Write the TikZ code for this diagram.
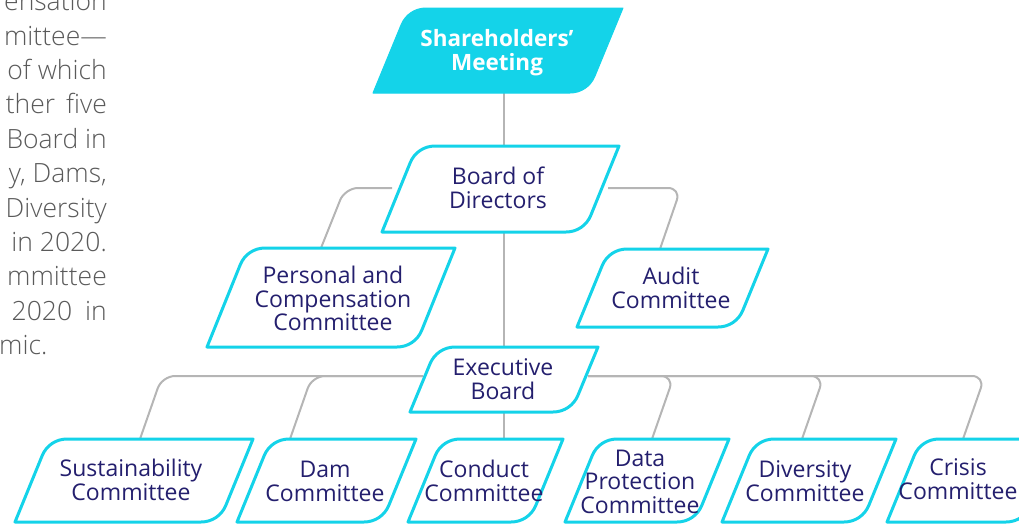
\documentclass[tikz,border=0pt]{standalone}
\usepackage{fontspec}
\setmainfont{Open Sans}
\IfFontExistsTF{Open Sans Light}{\newfontfamily\paralight{Open Sans Light}}{\newfontfamily\paralight{Open Sans}}
\IfFontExistsTF{Open Sans SemiBold}{\newfontfamily\headsemi{Open Sans SemiBold}}{\newcommand\headsemi{\bfseries}}
\usetikzlibrary{calc}
\definecolor{orgcyan}{HTML}{14D3E9}
\definecolor{orgnavy}{HTML}{241F6E}
\definecolor{orgline}{HTML}{B5B5B5}
\definecolor{paragray}{HTML}{5A5A5A}
% distance from a corner at which its rounding begins, and the pull of its control points
\newcommand\pgcorner{18pt}
\newcommand\pgctrl{7pt}
% slanted box with rounded top-left and bottom-right corners:
% name, top-left x, top-right x, top y, bottom y, slant, style
\newcommand\drawpgram[7]{%
  \coordinate (#1-tl) at (#2,#4);
  \coordinate (#1-tr) at (#3,#4);
  \coordinate (#1-br) at ({#3-#6},#5);
  \coordinate (#1-bl) at ({#2-#6},#5);
  \path[#7] ($(#1-tl)!0.5!(#1-tr)$) -- (#1-tr)
    -- ($(#1-br)!\pgcorner!(#1-tr)$)
       .. controls ($(#1-br)!\pgctrl!(#1-tr)$) and ($(#1-br)!\pgctrl!(#1-bl)$) .. ($(#1-br)!\pgcorner!(#1-bl)$)
    -- (#1-bl)
    -- ($(#1-tl)!\pgcorner!(#1-bl)$)
       .. controls ($(#1-tl)!\pgctrl!(#1-bl)$) and ($(#1-tl)!\pgctrl!(#1-tr)$) .. ($(#1-tl)!\pgcorner!(#1-tr)$)
    -- cycle;
}
\begin{document}
\begin{tikzpicture}[x=1pt,y=-1pt,
  boxline/.style={draw=orgcyan, line width=3pt, fill=white, line join=round},
  boxfill/.style={fill=orgcyan, draw=orgcyan, line width=1pt, line join=round},
  lbl/.style={text=orgnavy, align=center, inner sep=0pt, font=\fontsize{23}{23.5}\selectfont},
  headlbl/.style={text=white, align=center, inner sep=0pt, font=\headsemi\fontsize{22.5}{23.5}\selectfont},
  conn/.style={draw=orgline, line width=2pt, rounded corners=13pt},
  para/.style={text=paragray, inner sep=0pt, font=\paralight\fontsize{26.5}{34}\selectfont}
]
\useasboundingbox (0,0) rectangle (1019,523);
\clip (0,0) rectangle (1019,523);

% ---- running text beside the chart ----
\node[para, anchor=base east] (p0) at (107,10.6) {ensation};
\node[para, anchor=base east] (p1) at (107,45) {mittee—};
\node[para, anchor=base east] (p2) at (107,79.4) {of which};
\node[para, anchor=base east] (p3) at (107,113.8) {ther\hspace{11pt}five};
\node[para, anchor=base east] (p4) at (107,148.2) {Board in};
\node[para, anchor=base east] (p5) at (107,182.6) {y, Dams,};
\node[para, anchor=base east] (p6) at (107,217) {Diversity};
\node[para, anchor=base east] (p7) at (107,251.4) {in 2020.};
\node[para, anchor=base east] (p8) at (107,285.8) {mmittee};
\node[para, anchor=base east] (p9) at (107,320.2) {2020\hspace{13pt}in};
\node[para, anchor=base west] (p10) at (-1,354.6) {mic.};

% ---- connector points ----
\coordinate (spine-a) at (504,93);
\coordinate (spine-b) at (504,146);
\coordinate (spine-c) at (504,232);
\coordinate (spine-d) at (504,347);
\coordinate (spine-e) at (504,412);
\coordinate (spine-f) at (504,439);
\coordinate (board-w) at (392,188);
\coordinate (board-e) at (608,188);
\coordinate (pcc-j) at (345,188);
\coordinate (pcc-n) at (321,248);
\coordinate (audit-j) at (681,188);
\coordinate (audit-n) at (660,249);
\coordinate (exec-w) at (423,376);
\coordinate (exec-e) at (588,376);
\coordinate (sust-j) at (162,376);
\coordinate (sust-n) at (140,439);
\coordinate (dam-j) at (312,376);
\coordinate (dam-n) at (290,439);
\coordinate (data-j) at (674,376);
\coordinate (data-n) at (652,439);
\coordinate (div-j) at (824,376);
\coordinate (div-n) at (802,439);
\coordinate (crisis-j) at (985,376);
\coordinate (crisis-n) at (963,439);

% ---- connectors ----
\draw[conn] (spine-a) -- (spine-b);
\draw[conn] (spine-c) -- (spine-d);
\draw[conn] (spine-e) -- (spine-f);
\draw[conn] (board-w) -- (pcc-j) -- (pcc-n);
\draw[conn] (board-e) -- (audit-j) -- (audit-n);
\draw[conn] (exec-w) -- (sust-j) -- (sust-n);
\draw[conn] (exec-w) -- (dam-j) -- (dam-n);
\draw[conn] (exec-e) -- (data-j) -- (data-n);
\draw[conn] (exec-e) -- (div-j) -- (div-n);
\draw[conn] (exec-e) -- (crisis-j) -- (crisis-n);

% ---- boxes ----
\drawpgram{sh}{408}{623}{8}{93}{35}{boxfill}
\drawpgram{board}{417}{619}{146}{232}{35}{boxline}
\drawpgram{pcc}{247}{455}{248}{347}{40}{boxline}
\drawpgram{audit}{609}{768}{249}{327}{32}{boxline}
\drawpgram{exec}{437}{598}{347}{412}{27}{boxline}
\drawpgram{sust}{49}{253}{439}{522}{34}{boxline}
\drawpgram{dam}{271}{416}{439}{522}{34}{boxline}
\drawpgram{conduct}{442}{563}{439}{522}{34}{boxline}
\drawpgram{data}{599}{729}{439}{522}{34}{boxline}
\drawpgram{div}{756}{896}{439}{522}{34}{boxline}
\drawpgram{crisis}{921}{1058}{439}{522}{34}{boxline}

% ---- labels ----
\node[headlbl] (shl) at (497,52.5) {Shareholders’\\Meeting};
\node[lbl] (boardl) at (498,188) {Board of\\Directors};
\node[lbl] (pccl) at (333,298.5) {Personal and\\Compensation\\Committee};
\node[lbl] (auditl) at (671,288) {Audit\\Committee};
\node[lbl] (execl) at (503,379) {Executive\\Board};
\node[lbl] (sustl) at (131,480) {Sustainability\\Committee};
\node[lbl] (daml) at (325,481.5) {Dam\\Committee};
\node[lbl] (conductl) at (484,481) {Conduct\\Committee};
\node[lbl] (datal) at (640,481.5) {Data\\Protection\\Committee};
\node[lbl] (divl) at (805,481) {Diversity\\Committee};
\node[lbl] (crisisl) at (958,479) {Crisis\\Committee};
\end{tikzpicture}
\end{document}
